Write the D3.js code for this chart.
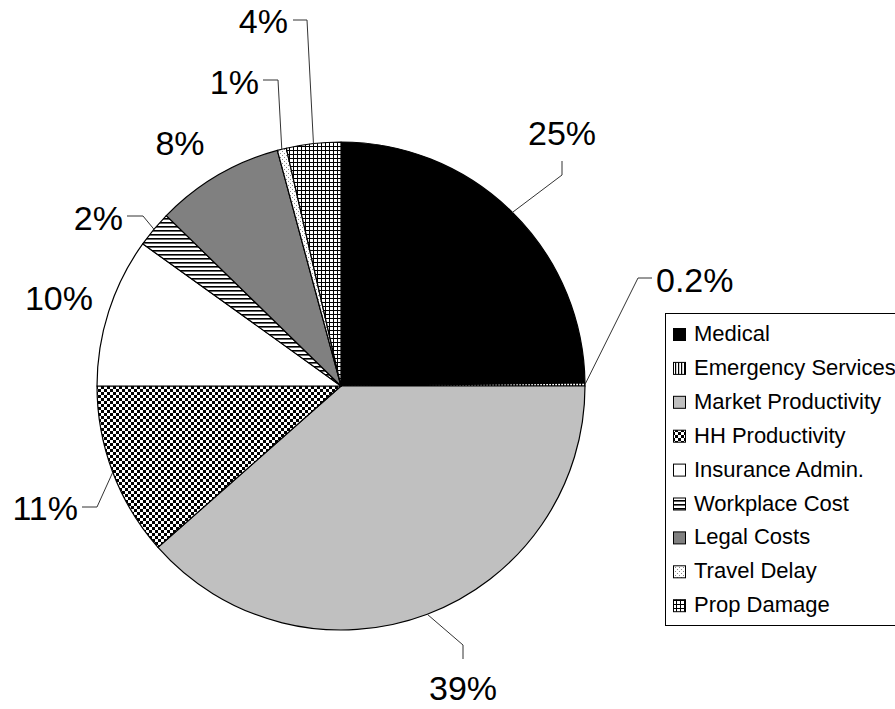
<!DOCTYPE html>
<html>
<head>
<meta charset="utf-8">
<script src="https://cdn.jsdelivr.net/npm/d3@7/dist/d3.min.js"></script>
<style>
  html, body { margin: 0; padding: 0; background: #fff; }
  svg { display: block; }
  text { font-family: "Liberation Sans", Arial, Helvetica, sans-serif; fill: #000; }
</style>
</head>
<body>
<svg id="chart" width="895" height="709"></svg>
<script>
// ---- Data ----
const categories = ["Medical", "Emergency Services", "Market Productivity", "HH Productivity",
  "Insurance Admin.", "Workplace Cost", "Legal Costs", "Travel Delay", "Prop Damage"];
const values = [24.8, 0.2, 38.5, 11.5, 9.9, 2.4, 8.5, 0.6, 3.6];
const percentLabels = ["25%", "0.2%", "39%", "11%", "10%", "2%", "8%", "1%", "4%"];
const fillKeys = ["medical", "emerg", "market", "hh", "ins", "work", "legal", "travel", "prop"];

// ---- Layout (label placement) ----
// elbow: point where leader line bends; end: end of leader line; text: anchor & baseline
const labelLayout = [
  { elbow: [562, 175], end: [562, 161], tx: 562, ty: 145, anchor: "middle" },
  { elbow: [638, 278], end: [652, 278], tx: 656, ty: 292, anchor: "start" },
  { elbow: [463, 645], end: [463, 659], tx: 463, ty: 700, anchor: "middle" },
  { elbow: [97, 507],  end: [82, 507],  tx: 78,  ty: 520, anchor: "end" },
  { elbow: null, end: null, tx: 93, ty: 310, anchor: "end" },
  { elbow: [143, 216], end: [127, 216], tx: 123, ty: 230, anchor: "end" },
  { elbow: null, end: null, tx: 180, ty: 155, anchor: "middle" },
  { elbow: [278, 80],  end: [263, 80],  tx: 259, ty: 94,  anchor: "end" },
  { elbow: [307, 20],  end: [293, 20],  tx: 288, ty: 33,  anchor: "end" }
];

const cx = 341, cy = 386, R = 244;

const svg = d3.select("#chart");
const defs = svg.append("defs");

// Patterns
function pat(id, w, h, draw) {
  const p = defs.append("pattern").attr("id", id).attr("patternUnits", "userSpaceOnUse")
    .attr("width", w).attr("height", h);
  draw(p);
}
pat("p-emerg", 3, 3, p => {
  p.append("rect").attr("width", 3).attr("height", 3).attr("fill", "#fff");
  p.append("rect").attr("x", 0).attr("width", 1.2).attr("height", 3).attr("fill", "#000");
});
pat("p-hh", 6, 6, p => {
  p.append("rect").attr("width", 6).attr("height", 6).attr("fill", "#fff");
  p.append("rect").attr("width", 3).attr("height", 3).attr("fill", "#000");
  p.append("rect").attr("x", 3).attr("y", 3).attr("width", 3).attr("height", 3).attr("fill", "#000");
});
pat("p-work", 4, 4, p => {
  p.append("rect").attr("width", 4).attr("height", 4).attr("fill", "#fff");
  p.append("rect").attr("y", 0).attr("width", 4).attr("height", 1.6).attr("fill", "#000");
});
pat("p-travel", 4, 4, p => {
  p.append("rect").attr("width", 4).attr("height", 4).attr("fill", "#fff");
  p.append("rect").attr("x", 1).attr("y", 1).attr("width", 1).attr("height", 1).attr("fill", "#888");
  p.append("rect").attr("x", 3).attr("y", 3).attr("width", 1).attr("height", 1).attr("fill", "#888");
});
pat("p-prop", 4, 4, p => {
  p.append("rect").attr("width", 4).attr("height", 4).attr("fill", "#fff");
  p.append("rect").attr("width", 4).attr("height", 1).attr("fill", "#000");
  p.append("rect").attr("width", 1).attr("height", 4).attr("fill", "#000");
});

const fillMap = {
  medical: "#000000",
  emerg: "url(#p-emerg)",
  market: "#c0c0c0",
  hh: "url(#p-hh)",
  ins: "#ffffff",
  work: "url(#p-work)",
  legal: "#808080",
  travel: "url(#p-travel)",
  prop: "url(#p-prop)"
};

const data = categories.map((c, i) => ({ cat: c, value: values[i], label: percentLabels[i], key: fillKeys[i], lay: labelLayout[i] }));

const pie = d3.pie().value(d => d.value).sort(null);
const arcs = pie(data);
const arc = d3.arc().innerRadius(0).outerRadius(R);

const g = svg.append("g").attr("transform", `translate(${cx},${cy})`);
g.selectAll("path.slice").data(arcs).enter().append("path")
  .attr("class", "slice")
  .attr("d", arc)
  .attr("fill", d => fillMap[d.data.key])
  .attr("stroke", "#000")
  .attr("stroke-width", 1.2)
  .attr("stroke-linejoin", "round");

// Leader lines
arcs.forEach(d => {
  const L = d.data.lay;
  if (L.elbow) {
    const a = (d.startAngle + d.endAngle) / 2;
    const sx = cx + R * Math.sin(a), sy = cy - R * Math.cos(a);
    svg.append("polyline")
      .attr("points", [[sx, sy], L.elbow, L.end].map(p => p.join(",")).join(" "))
      .attr("fill", "none").attr("stroke", "#333").attr("stroke-width", 1);
  }
  svg.append("text")
    .attr("x", L.tx).attr("y", L.ty)
    .attr("text-anchor", L.anchor)
    .attr("font-size", 34)
    .text(d.data.label);
});

// Legend
const lg = svg.append("g");
lg.append("rect").attr("x", 665.5).attr("y", 313.5).attr("width", 240).attr("height", 312)
  .attr("fill", "#fff").attr("stroke", "#000").attr("stroke-width", 1);
const rowH = 33.9, firstBase = 341;
data.forEach((d, i) => {
  const by = firstBase + i * rowH;
  lg.append("rect").attr("x", 673.5).attr("y", by - 12.5).attr("width", 12).attr("height", 12)
    .attr("fill", fillMap[d.key]).attr("stroke", "#000").attr("stroke-width", 1);
  lg.append("text").attr("x", 694).attr("y", by).attr("font-size", 22).text(d.cat);
});
</script>
</body>
</html>
